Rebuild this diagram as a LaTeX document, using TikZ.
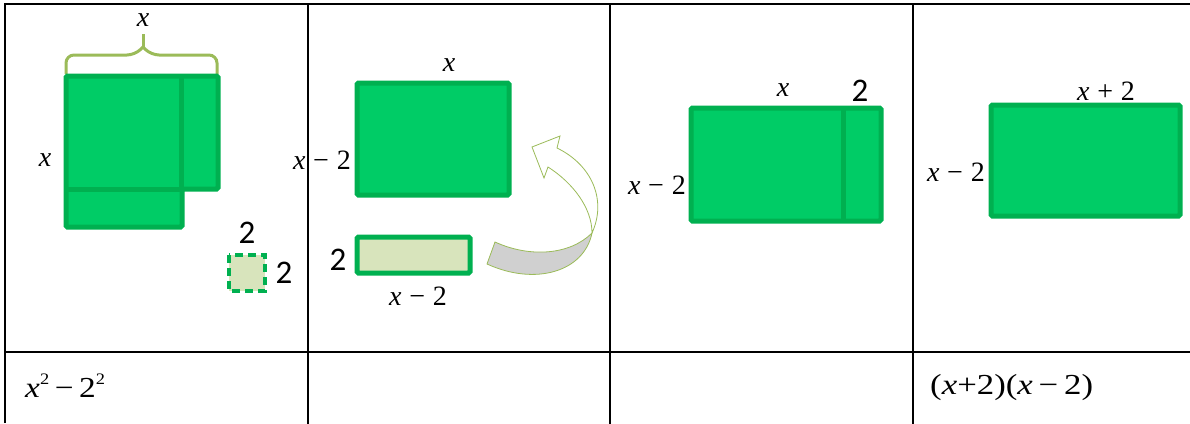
\documentclass[tikz,border=0pt]{standalone}
\usepackage{fontspec}
\setmainfont{Liberation Serif}
\newfontfamily\calibri{Carlito}
\definecolor{gfill}{RGB}{0,204,102}
\definecolor{gborder}{RGB}{0,176,80}
\definecolor{lfill}{RGB}{216,228,188}
\definecolor{olive}{RGB}{155,187,89}
\definecolor{bandgray}{RGB}{208,208,208}
\tikzset{
  grid/.style={line width=2.2pt, black},
  gbox/.style={draw=gborder, fill=gfill, line width=5pt, rounded corners=1.5pt},
  lbox/.style={draw=gborder, fill=lfill, line width=5pt, rounded corners=1.5pt},
  lab/.style={font=\fontsize{28}{30}\selectfont, inner sep=0pt},
  num/.style={font=\calibri\fontsize{33}{36}\selectfont, inner sep=0pt},
  eq/.style={font=\fontsize{29}{32}\selectfont, inner sep=0pt},
}
\newcommand{\xm}{\textit{x}\;−\;2}
\begin{document}
\begin{tikzpicture}[x=1pt,y=-1pt]
\useasboundingbox (0,0) rectangle (1190,423);
% table
\draw[grid] (5,423) -- (5,4) -- (1192,4);
\draw[grid] (5,352) -- (1192,352);
\draw[grid] (308,4) -- (308,425);
\draw[grid] (610,4) -- (610,425);
\draw[grid] (913,4) -- (913,425);

% cell 1
\draw[olive, line width=3pt, rounded corners=8pt]
  (66,74) -- (66,55) -- (135,55) -- (143,47) (143,47) -- (151,55) -- (217,55) -- (217,74);
\draw[olive, line width=3pt] (143,47) -- (143,34);
\draw[gborder, fill=gfill, line width=5pt, rounded corners=1.5pt]
  (66,76) -- (218,76) -- (218,189) -- (182,189) -- (182,227) -- (66,227) -- cycle;
\draw[gborder, line width=5pt] (181,76) -- (181,189);
\draw[gborder, line width=5pt] (66,189) -- (182,189);
\draw[gborder, fill=lfill, line width=4.5pt, dash pattern=on 8pt off 5pt] (229,255) rectangle (265,291);
\node[lab] (x1t) at (143,20) {\textit{x}};
\node[lab] (x1l) at (45,160) {\textit{x}};
\node[num] (n1t) at (247,233) {2};
\node[num] (n1r) at (284,273) {2};

% cell 2
\draw[gbox] (357,83) rectangle (509,195);
\draw[lbox] (357,237) rectangle (470,273);
\node[lab] (x2t) at (449,65) {\textit{x}};
\node[lab, anchor=east] (x2l) at (351,160) {\xm};
\node[num] (n2l) at (338,260) {2};
\node[lab] (x2b) at (418,296) {\xm};
% curved arrow
\draw[olive, line width=0.8pt, fill=bandgray]
  (487,264) .. controls (535,286) and (584,272) .. (592,233)
  .. controls (570,255) and (530,258) .. (495,242) -- cycle;
\draw[olive, line width=0.8pt, fill=white]
  (592,233) .. controls (607,200) and (592,165) .. (557,148)
  -- (560,136) -- (532,147) -- (544,178) -- (548,167)
  .. controls (573,183) and (592,208) .. (592,233) -- cycle;

% cell 3
\draw[gbox] (691,108) rectangle (881,221);
\draw[gborder, line width=5pt] (843,108) -- (843,221);
\node[lab] (x3t) at (783,90) {\textit{x}};
\node[num] (n3t) at (860,91) {2};
\node[lab, anchor=east] (x3l) at (686,185) {\xm};

% cell 4
\draw[gbox] (991,105) rectangle (1180,216);
\node[lab] (x4t) at (1106,91) {\textit{x}\;+\;2};
\node[lab, anchor=east] (x4l) at (985,172) {\xm};

% bottom row
\node[eq, anchor=west] (e1) at (25,386) {\scalebox{1.15}[1]{\textit{x}\raisebox{0.45em}{\fontsize{16}{16}\selectfont 2}\,−\,2\raisebox{0.45em}{\fontsize{16}{16}\selectfont 2}}};
\node[eq, anchor=west] (e4) at (930,388) {\scalebox{1.2}[1]{(\textit{x}+2)(\textit{x}\,−\,2)}};
\end{tikzpicture}
\end{document}
